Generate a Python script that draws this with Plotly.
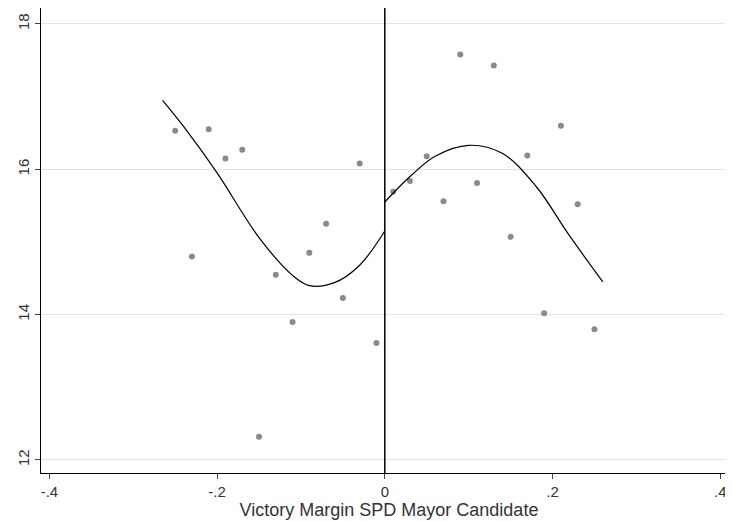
import plotly.graph_objects as go

# binned means, left and right of the cutoff
x_left = [-0.25, -0.23, -0.21, -0.19, -0.17, -0.15, -0.13, -0.11, -0.09, -0.07, -0.05, -0.03, -0.01]
y_left = [16.53, 14.80, 16.55, 16.15, 16.27, 12.32, 14.55, 13.90, 14.85, 15.25, 14.23, 16.08, 13.61]
x_right = [0.01, 0.03, 0.05, 0.07, 0.09, 0.11, 0.13, 0.15, 0.17, 0.19, 0.21, 0.23, 0.25]
y_right = [15.69, 15.84, 16.18, 15.56, 17.58, 15.81, 17.43, 15.07, 16.19, 14.02, 16.60, 15.52, 13.80]

# fitted curves
fit_x_left = [-0.265, -0.24, -0.2, -0.15, -0.11, -0.09, -0.06, -0.03, 0.0]
fit_y_left = [16.95, 16.59, 15.95, 15.06, 14.54, 14.40, 14.44, 14.68, 15.15]
fit_x_right = [0.0, 0.03, 0.06, 0.1, 0.14, 0.18, 0.22, 0.26]
fit_y_right = [15.55, 15.90, 16.18, 16.33, 16.22, 15.77, 15.09, 14.45]

fig = go.Figure()
fig.add_trace(go.Scatter(x=x_left + x_right, y=y_left + y_right, mode="markers",
                         marker=dict(color="#8a8a8a", size=6)))
fig.add_trace(go.Scatter(x=fit_x_left, y=fit_y_left, mode="lines", line_shape="spline",
                         line=dict(color="black", width=1.2)))
fig.add_trace(go.Scatter(x=fit_x_right, y=fit_y_right, mode="lines", line_shape="spline",
                         line=dict(color="black", width=1.2)))
fig.add_vline(x=0, line=dict(color="black", width=1.5))

fig.update_layout(
    width=733, height=521, showlegend=False,
    plot_bgcolor="white", paper_bgcolor="white",
    margin=dict(l=33, r=4, t=0, b=56),
    font=dict(family="Liberation Sans", size=15, color="#333"),
)
fig.update_xaxes(range=[-0.41, 0.42], tickvals=[-0.4, -0.2, 0, 0.2, 0.4],
                 ticktext=["-.4", "-.2", "0", ".2", ".4"], showgrid=False, zeroline=False,
                 showline=True, linecolor="black", ticks="outside", ticklen=5,
                 title=dict(text="Victory Margin SPD Mayor Candidate", standoff=0))
fig.update_yaxes(range=[11.82, 18.22], tickvals=[12, 14, 16, 18], tickangle=-90,
                 showgrid=True, gridcolor="#e3e3e3", zeroline=False,
                 showline=True, linecolor="black", ticks="outside", ticklen=5)

fig.write_html("out.html")
